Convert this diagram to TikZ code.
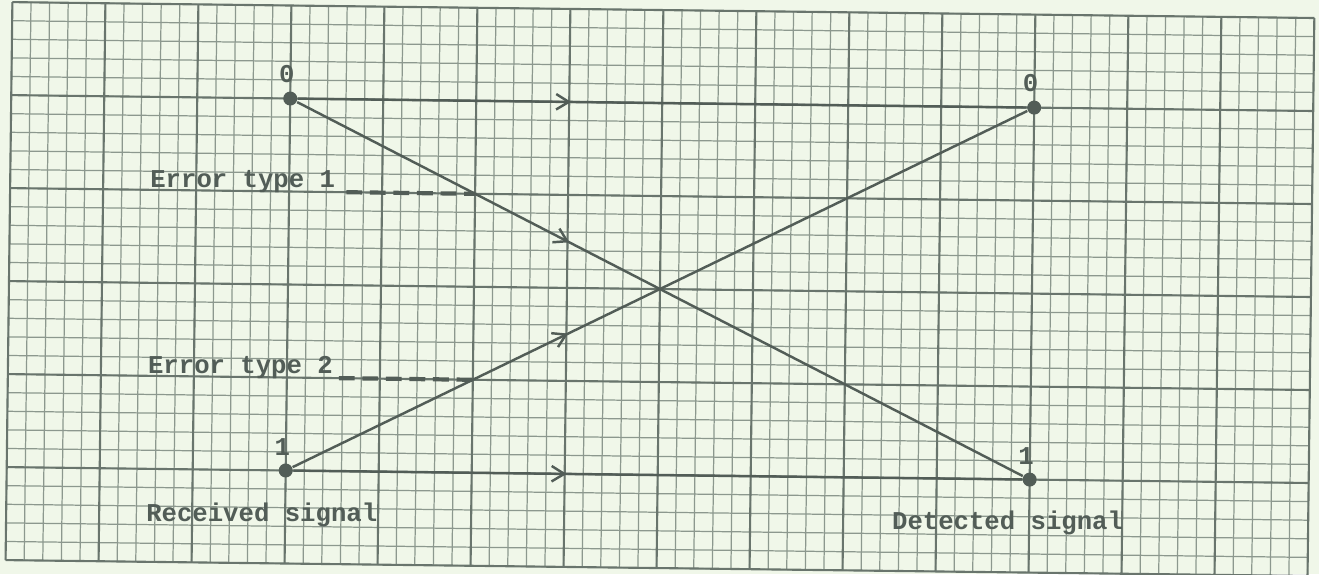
\documentclass[tikz,border=0pt]{standalone}
\usepackage{fontspec}
\setmonofont{Liberation Mono}
\usetikzlibrary{positioning,arrows.meta,decorations.markings}
\definecolor{paper}{RGB}{240,247,233}
\definecolor{gridminor}{RGB}{140,152,142}
\definecolor{gridmajor}{RGB}{105,117,109}
\definecolor{ink}{RGB}{82,93,87}
\tikzset{
  typed/.style={font=\ttfamily\bfseries\fontsize{7.3}{8}\selectfont,text=ink,inner sep=0pt},
  bitdot/.style={circle,fill=ink,inner sep=0pt,minimum size=0.14cm},
  chan/.style={ink,line width=0.7pt,
    decoration={markings,mark=at position 0.375 with {\arrow{Straight Barb[length=3.6pt,width=4.4pt,line width=0.7pt]}}},
    postaction={decorate}},
  errdash/.style={ink,line width=1.2pt,dash pattern=on 4.5pt off 2.2pt},
  minorline/.style={gridminor,line width=0.35pt},
  majorline/.style={gridmajor,line width=0.6pt},
}
\begin{document}
\begin{tikzpicture}[x=0.186cm,y=0.186cm]
  % paper sheet
  \fill[paper] (-35.48,-15.32) rectangle (35.43,15.54);
  \useasboundingbox (-35.48,-15.32) rectangle (35.43,15.54);
  \begin{scope}[rotate=-0.7]
  % graph paper: fine lines, every fifth one heavier
  \foreach \i in {-35,...,35} \draw[minorline] (\i,-15) -- (\i,15);
  \foreach \j in {-15,...,15} \draw[minorline] (-35,\j) -- (35,\j);
  \foreach \i in {-35,-30,...,35} \draw[majorline] (\i,-15) -- (\i,15);
  \foreach \j in {-15,-10,...,15} \draw[majorline] (-35,\j) -- (35,\j);
  % received bits (left) and detected bits (right)
  \node[bitdot] (r0) at (-20,10) {};
  \node[bitdot] (r1) at (-20,-10) {};
  \node[bitdot] (d0) at (20,10) {};
  \node[bitdot] (d1) at (20,-10) {};
  \node[typed,above=2pt of r0,xshift=-1pt] (r0lbl) {0};
  \node[typed,above=2pt of r1,xshift=-1pt] (r1lbl) {1};
  \node[typed,above=2pt of d0,xshift=-1pt] (d0lbl) {0};
  \node[typed,above=2pt of d1,xshift=-1pt] (d1lbl) {1};
  % channel transitions
  \draw[chan] (r0) -- (d0);
  \draw[chan] (r0) -- (d1);
  \draw[chan] (r1) -- (d0);
  \draw[chan] (r1) -- (d1);
  % captions
  \node[typed,anchor=base west] (err1) at (-27.5,5.1) {Error type 1};
  \node[typed,anchor=base west] (err2) at (-27.5,-4.85) {Error type 2};
  \node[typed,anchor=base west] (rx) at (-27.5,-12.85) {Received signal};
  \node[typed,anchor=base west] (det) at (12.6,-12.8) {Detected signal};
  \coordinate (e1) at (-10,5);
  \coordinate (e2) at (-10,-5);
  \draw[errdash,shorten <=3pt] (err1.base east |- e1) -- (e1);
  \draw[errdash,shorten <=1.5pt] (err2.base east |- e2) -- (e2);
  \end{scope}
\end{tikzpicture}
\end{document}
